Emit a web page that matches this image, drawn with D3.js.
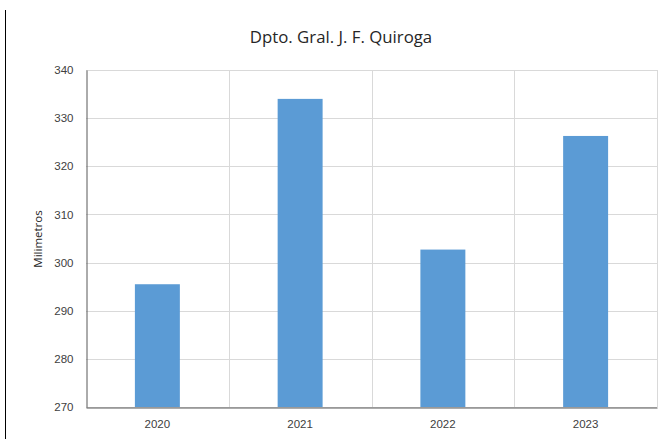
<!DOCTYPE html>
<html lang="es">
<head>
<meta charset="utf-8">
<script src="https://d3js.org/d3.v7.min.js"></script>
<style type="text/css">
body {
	margin: 0;
	background-color: #ffffff;
	font-family: "Open Sans", "Liberation Sans", sans-serif;
}
.axis text {
	font-size: 11.5px;
	fill: #404040;
}
</style>
</head>
<body>
<script type="text/javascript">

// chart data
var years = ["2020", "2021", "2022", "2023"];
var rainfall = [295.5, 334.0, 302.7, 326.3];
var yTicks = [270, 280, 290, 300, 310, 320, 330, 340];

var width = 668;
var height = 439;
var margin = {top: 70, right: 11, bottom: 32, left: 86};

var barColor = "#5b9bd5";
var gridColor = "#d9d9d9";
var axisColor = "#595959";

var svg = d3.select("body")
  .append("svg")
  .attr("width", width)
  .attr("height", height);

// thin frame line on the left edge
svg.append("line")
  .attr("x1", 5.5).attr("x2", 5.5)
  .attr("y1", 10).attr("y2", height)
  .style("stroke", "#000")
  .style("stroke-width", 1);

var x = d3.scaleBand()
  .domain(years)
  .range([margin.left, width - margin.right])
  .paddingInner(0.685)
  .paddingOuter(0.3425);

var band = d3.scaleBand()
  .domain(years)
  .range([margin.left, width - margin.right]);

var y = d3.scaleLinear()
  .domain([270, 340])
  .range([height - margin.bottom, margin.top]);

// horizontal gridlines
svg.append("g")
  .selectAll("line")
  .data(yTicks)
  .enter()
  .append("line")
  .attr("x1", margin.left)
  .attr("x2", width - margin.right)
  .attr("y1", function(d) { return Math.round(y(d)) + 0.5; })
  .attr("y2", function(d) { return Math.round(y(d)) + 0.5; })
  .style("stroke", gridColor);

// vertical gridlines between categories
svg.append("g")
  .selectAll("line")
  .data(years)
  .enter()
  .append("line")
  .attr("x1", function(d) { return Math.round(band(d) + band.bandwidth()) + 0.5; })
  .attr("x2", function(d) { return Math.round(band(d) + band.bandwidth()) + 0.5; })
  .attr("y1", margin.top)
  .attr("y2", height - margin.bottom)
  .style("stroke", gridColor);

// bars
svg.append("g")
  .selectAll("rect")
  .data(rainfall)
  .enter()
  .append("rect")
  .attr("x", function(d, i) { return x(years[i]); })
  .attr("width", x.bandwidth())
  .attr("y", function(d) { return y(d); })
  .attr("height", function(d) { return y(270) - y(d); })
  .style("fill", barColor);

// axes
var yAxis = d3.axisLeft(y).tickValues(yTicks).tickSize(0).tickPadding(13);
var gy = svg.append("g")
  .attr("class", "axis")
  .attr("transform", "translate(" + (margin.left + 0.5) + ",0)")
  .call(yAxis);
gy.select(".domain").style("stroke", axisColor);

var xAxis = d3.axisBottom(band).tickSize(0).tickPadding(12);
var gx = svg.append("g")
  .attr("class", "axis")
  .attr("transform", "translate(0," + (Math.round(y(270)) + 0.5) + ")")
  .call(xAxis);
gx.select(".domain").style("stroke", axisColor);

// title
svg.append("text")
  .attr("x", 341)
  .attr("y", 43)
  .attr("text-anchor", "middle")
  .style("font-size", "16.8px")
  .style("fill", "#262626")
  .text("Dpto. Gral. J. F. Quiroga");

// y axis label
svg.append("text")
  .attr("transform", "translate(42,239) rotate(-90)")
  .attr("text-anchor", "middle")
  .style("font-size", "11.5px")
  .style("fill", "#262626")
  .text("Milimetros");

</script>
</body>
</html>
